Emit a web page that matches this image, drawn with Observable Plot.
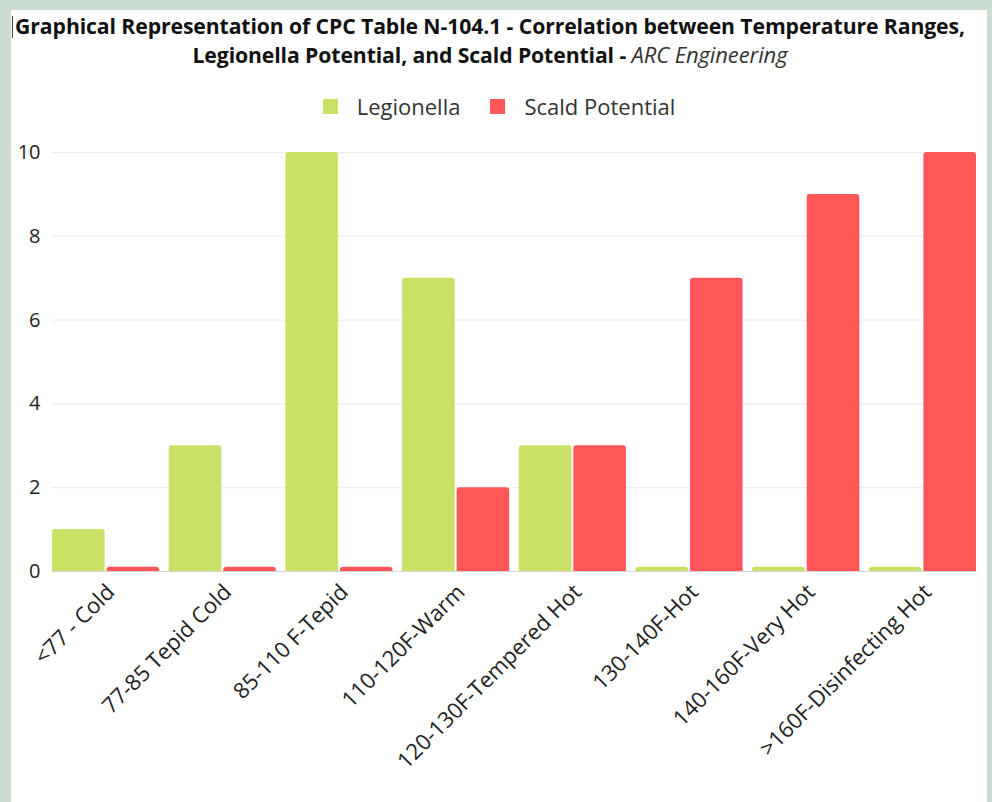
<!DOCTYPE html>
<html><head><meta charset="utf-8">
<script src="https://cdn.jsdelivr.net/npm/d3@7"></script>
<script src="https://cdn.jsdelivr.net/npm/@observablehq/plot@0.6"></script>
<style>
html,body{margin:0;padding:0;background:#cbdcd1;width:992px;height:802px;overflow:hidden;font-family:"Open Sans",sans-serif}
#panel{position:absolute;left:11px;top:10px;width:976px;height:792px;background:#fff}
#title{position:absolute;left:0;top:1px;width:958px;text-align:center;font-weight:700;font-size:21.2px;line-height:29px;color:#111;white-space:nowrap;letter-spacing:-0.1px}
#title i{font-weight:400;color:#333;font-size:22px}
#cursor{position:absolute;left:1px;top:6px;width:1px;height:22px;background:#444}
#legend{position:absolute;left:0;top:82px;width:976px;height:28px;display:flex;justify-content:center;align-items:center;font-size:22px;color:#333}
.sw{width:15px;height:15px;display:inline-block;margin-right:19px}
.item{display:flex;align-items:center;margin:0 15px}
#chart{position:absolute;left:0;top:130px}
</style></head>
<body>
<div id="panel">
  <div id="cursor"></div>
  <div id="title"></div>
  <div id="legend"></div>
</div>
<div id="chart"></div>
<script>
const titleLine1 = "Graphical Representation of CPC Table N-104.1 - Correlation between Temperature Ranges,";
const titleLine2 = "Legionella Potential, and Scald Potential - ";
const titleSource = "ARC Engineering";
const categories = ["<77 - Cold","77-85 Tepid Cold","85-110 F-Tepid","110-120F-Warm","120-130F-Tempered Hot","130-140F-Hot","140-160F-Very Hot",">160F-Disinfecting Hot"];
const legionella = [1,3,10,7,3,0.1,0.1,0.1];
const scald = [0.1,0.1,0.1,2,3,7,9,10];
const seriesNames = ["Legionella","Scald Potential"];
const seriesColors = ["#c9e265","#ff5757"];
const yTicks = [0,2,4,6,8,10];

const t = document.getElementById("title");
t.appendChild(document.createTextNode(titleLine1));
t.appendChild(document.createElement("br"));
t.appendChild(document.createTextNode(titleLine2));
const it = document.createElement("i"); it.textContent = titleSource; t.appendChild(it);

const lg = document.getElementById("legend");
seriesNames.forEach((n,i)=>{
  const d = document.createElement("span"); d.className="item";
  const s = document.createElement("span"); s.className="sw"; s.style.background=seriesColors[i];
  d.appendChild(s); d.appendChild(document.createTextNode(n)); lg.appendChild(d);
});

const rows = categories.map((c,i)=>({category:c, legionella: legionella[i], scald: scald[i]}));

const chart = Plot.plot({
  width: 992, height: 672,
  marginLeft: 52, marginRight: 16, marginTop: 22, marginBottom: 231,
  style: {background:"transparent", fontFamily:"Open Sans", fontSize:"18px", color:"#222", overflow:"visible"},
  x: {domain: categories, paddingInner: 0.082, paddingOuter: 0, round: false, label: null},
  y: {domain:[0,10], label:null},
  marks: [
    Plot.ruleY(yTicks.slice(1), {stroke:"#ebebeb"}),
    Plot.ruleY([0], {stroke:"#d6d6d6"}),
    Plot.barY(rows, {x:"category", y:"legionella", fill: seriesColors[0], insetRight: 54.5, ry1: 3}),
    Plot.barY(rows, {x:"category", y:"scald", fill: seriesColors[1], insetLeft: 54.5, ry1: 3}),
    Plot.axisY(yTicks, {tickSize:0, tickPadding: 12, fontSize: 20, label: null}),
    Plot.axisX({tickSize:0, tickPadding: 17, tickRotate: -45, fontSize:22, label:null, dx: 5})
  ]
});
document.getElementById("chart").appendChild(chart);
</script>
</body></html>
